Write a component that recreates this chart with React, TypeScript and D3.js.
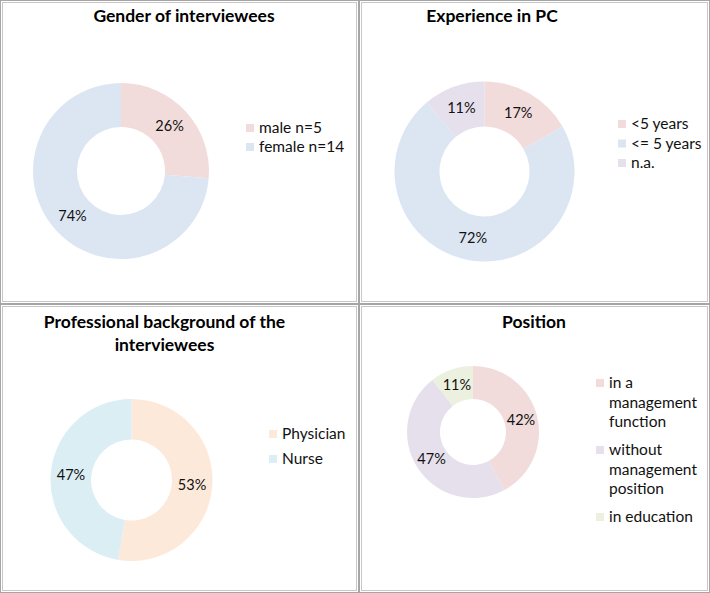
import React, { useEffect, useRef } from 'react';
import * as d3 from 'd3';

// data (counts of interviewees)
const genderLabels = ['male n=5', 'female n=14'];
const genderValues = [5, 14];
const genderColors = ['#f2dcdb', '#dce6f2'];

const experienceLabels = ['<5 years', '<= 5 years', 'n.a.'];
const experienceValues = [3, 13, 2];
const experienceColors = ['#f2dcdb', '#dce6f2', '#e6e0ec'];

const professionLabels = ['Physician', 'Nurse'];
const professionValues = [10, 9];
const professionColors = ['#fde9d9', '#dbeef4'];

const positionLabels = ['in a management function', 'without management position', 'in education'];
const positionValues = [8, 9, 2];
const positionColors = ['#f2dcdb', '#e6e0ec', '#ebf1de'];

interface Panel {
  box: [number, number, number, number];
  title: string[];
  titleX: number;
  titleY: number;
  cx: number;
  cy: number;
  r: number;
  labels: string[];
  values: number[];
  colors: string[];
  legendX: number;
  legendY: number;
  legendWrap: number;
  legendGap: number;
}

const panels: Panel[] = [
  {
    box: [0, 0, 359, 304], title: ['Gender of interviewees'], titleX: 184, titleY: 22,
    cx: 121, cy: 171, r: 88, labels: genderLabels, values: genderValues, colors: genderColors,
    legendX: 246, legendY: 128, legendWrap: 200, legendGap: 19,
  },
  {
    box: [359, 0, 710, 304], title: ['Experience in PC'], titleX: 492, titleY: 22,
    cx: 484.5, cy: 171.5, r: 90, labels: experienceLabels, values: experienceValues, colors: experienceColors,
    legendX: 618, legendY: 124, legendWrap: 200, legendGap: 19.5,
  },
  {
    box: [0, 304, 359, 593], title: ['Professional background of the', 'interviewees'], titleX: 164.5, titleY: 328,
    cx: 131.5, cy: 480, r: 81, labels: professionLabels, values: professionValues, colors: professionColors,
    legendX: 269, legendY: 434, legendWrap: 200, legendGap: 25,
  },
  {
    box: [359, 304, 710, 593], title: ['Position'], titleX: 534, titleY: 328,
    cx: 473, cy: 432, r: 66, labels: positionLabels, values: positionValues, colors: positionColors,
    legendX: 596, legendY: 383, legendWrap: 90, legendGap: 8.5,
  },
];

const FONT = 'Lato, "Open Sans", sans-serif';

export default function App() {
  const svgRef = useRef<SVGSVGElement>(null);

  useEffect(() => {
    const svg = d3.select(svgRef.current);
    svg.selectAll('*').remove();

    svg.append('rect').attr('width', 710).attr('height', 593).attr('fill', '#fff');

    panels.forEach(p => {
      const [x0, y0, x1, y1] = p.box;
      const g = svg.append('g');

      // double grey frame
      g.append('rect')
        .attr('x', x0 + 0.5).attr('y', y0 + 0.5)
        .attr('width', x1 - x0 - 1).attr('height', y1 - y0 - 1)
        .attr('fill', 'none').attr('stroke', '#a6a6a6');
      g.append('rect')
        .attr('x', x0 + 2.5).attr('y', y0 + 2.5)
        .attr('width', x1 - x0 - 5).attr('height', y1 - y0 - 5)
        .attr('fill', 'none').attr('stroke', '#c8c8c8');

      // title
      const t = g.append('text')
        .attr('x', p.titleX).attr('y', p.titleY)
        .attr('text-anchor', 'middle')
        .style('font-family', FONT).style('font-weight', 'bold').style('font-size', '17.5px')
        .attr('fill', '#000');
      p.title.forEach((line, i) => {
        t.append('tspan').attr('x', p.titleX).attr('dy', i === 0 ? 0 : 23).text(line);
      });

      // donut
      const pie = d3.pie<number>().sort(null).value(d => d);
      const arcs = pie(p.values);
      const arc = d3.arc<d3.PieArcDatum<number>>().innerRadius(p.r * 0.5).outerRadius(p.r);
      const total = d3.sum(p.values);

      const dg = g.append('g').attr('transform', `translate(${p.cx},${p.cy})`);
      dg.selectAll('path')
        .data(arcs)
        .enter().append('path')
        .attr('d', arc)
        .attr('fill', (_d, i) => p.colors[i]);

      dg.selectAll('text')
        .data(arcs)
        .enter().append('text')
        .attr('transform', d => `translate(${arc.centroid(d)})`)
        .attr('text-anchor', 'middle')
        .attr('dy', '0.35em')
        .style('font-family', FONT).style('font-size', '14.5px')
        .attr('fill', '#111')
        .text(d => `${Math.round((d.value / total) * 100)}%`);

      // legend
      let ly = p.legendY;
      const lineH = 19.5;
      p.labels.forEach((label, i) => {
        // wrap words to fit the legend width
        const words = label.split(' ');
        const lines: string[] = [];
        let cur = '';
        const measure = (s: string) => s.length * 7.5;
        words.forEach(w => {
          const next = cur ? cur + ' ' + w : w;
          if (cur && measure(next) > p.legendWrap) {
            lines.push(cur);
            cur = w;
          } else cur = next;
        });
        if (cur) lines.push(cur);

        g.append('rect')
          .attr('x', p.legendX).attr('y', ly - 4)
          .attr('width', 8).attr('height', 8)
          .attr('fill', p.colors[i]);
        const lt = g.append('text')
          .attr('x', p.legendX + 13).attr('y', ly)
          .style('font-family', FONT).style('font-size', '15.5px')
          .attr('fill', '#111');
        lines.forEach((l, j) => {
          lt.append('tspan').attr('x', p.legendX + 13).attr('dy', j === 0 ? '0.35em' : lineH).text(l);
        });
        ly += lines.length > 1 ? lines.length * lineH + p.legendGap : p.legendGap;
      });
    });
  }, []);

  return (
    <svg ref={svgRef} width={710} height={593}
      style={{ position: 'absolute', left: 0, top: 0, display: 'block' }} />
  );
}
